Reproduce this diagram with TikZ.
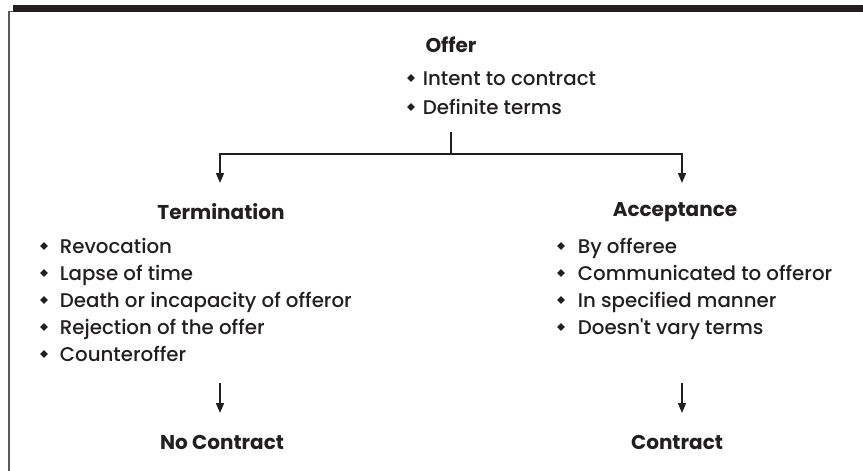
\documentclass[tikz,border=0pt]{standalone}
\usepackage{fontspec}
\setmainfont{Poppins}[UprightFont={* Medium},BoldFont={* Bold},Ligatures=TeXOff]
\usetikzlibrary{arrows.meta}
\definecolor{ink}{HTML}{231F20}
\newcommand\dmd{\raisebox{0.16em}{\rotatebox{45}{\rule{5.4pt}{5.4pt}}}}
\begin{document}
\begin{tikzpicture}[x=1pt,y=-1pt,
  every node/.style={text=ink,inner sep=0pt,font=\fontsize{19.8}{23}\selectfont},
  head/.style={font=\fontsize{20}{24}\selectfont\bfseries},
  item/.style={anchor=base west},
  conn/.style={draw=ink,line width=1.4pt},
  arr/.style={conn,-{Triangle[width=8pt,length=10pt]}}]
\useasboundingbox (0,0) rectangle (863,471);
\fill[ink] (13,5) rectangle (863,12);
\draw[ink!75,line width=1.5pt] (13,11.25) -- (9,11.25) -- (9,471);

\node[head] (offer) at (451,45) {Offer};
\node[item] (o1) at (407,85) {\dmd\hspace{8pt}Intent to contract};
\node[item] (o2) at (407,114) {\dmd\hspace{8pt}Definite terms};

\coordinate (stem) at (451,132);
\coordinate (fork) at (451,154);
\coordinate (ltip) at (220,183);
\coordinate (rtip) at (682,183);
\draw[conn] (stem) -- (fork);
\draw[arr] (fork) -| (ltip);
\draw[arr] (fork) -| (rtip);

\node[head] (term) at (221,212) {Termination};
\node[item] (t1) at (40,253) {\dmd\hspace{12pt}Revocation};
\node[item] (t2) at (40,280) {\dmd\hspace{12pt}Lapse of time};
\node[item] (t3) at (40,307) {\dmd\hspace{12pt}Death or incapacity of offeror};
\node[item] (t4) at (40,334) {\dmd\hspace{12pt}Rejection of the offer};
\node[item] (t5) at (40,361) {\dmd\hspace{12pt}Counteroffer};

\node[head] (acc) at (675,212) {Acceptance};
\node[item] (a1) at (557,253) {\dmd\hspace{13pt}By offeree};
\node[item] (a2) at (557,280) {\dmd\hspace{13pt}Communicated to offeror};
\node[item] (a3) at (557,307) {\dmd\hspace{13pt}In specified manner};
\node[item] (a4) at (557,334) {\dmd\hspace{13pt}Doesn't vary terms};

\coordinate (lb1) at (220,383);
\coordinate (lb2) at (220,413);
\coordinate (rb1) at (682,383);
\coordinate (rb2) at (682,413);
\draw[arr] (lb1) -- (lb2);
\draw[arr] (rb1) -- (rb2);

\node[head] (nc) at (222,442) {No Contract};
\node[head] (con) at (677,442) {Contract};
\end{tikzpicture}
\end{document}
